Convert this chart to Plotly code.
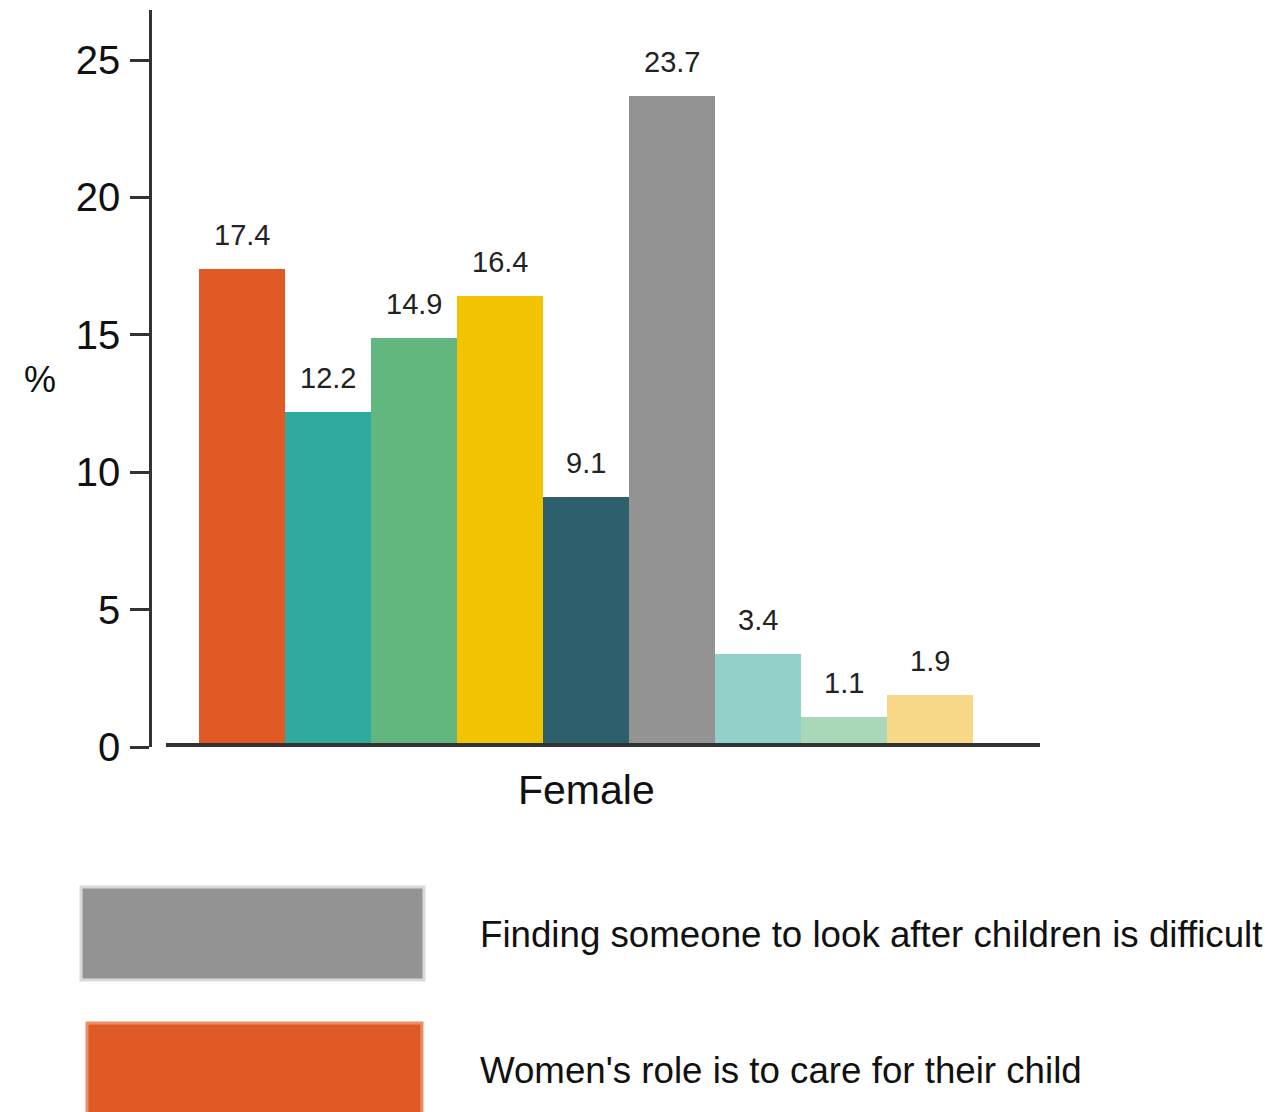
import plotly.graph_objects as go

# Reasons (one bar each), shares in percent for the female group
reasons = [
    "Women's role is to care for their child",
    "Reason 2",
    "Reason 3",
    "Reason 4",
    "Reason 5",
    "Finding someone to look after children is difficult",
    "Reason 7",
    "Reason 8",
    "Reason 9",
]
values = [17.4, 12.2, 14.9, 16.4, 9.1, 23.7, 3.4, 1.1, 1.9]
colors = ["#E05A26", "#2EAA9E", "#62B77F", "#F2C300", "#2D606C",
          "#939393", "#93D0CA", "#A8D8B7", "#F7D888"]
group_label = "Female"
y_ticks = [0, 5, 10, 15, 20, 25]

legend_items = [
    ("Finding someone to look after children is difficult", "#939393", "#D9D9D9"),
    ("Women's role is to care for their child", "#E05A26", "#EB8F6A"),
]

W, H = 1284, 1112
L, R, T, B = 152, 1040, 10, 747  # plot area in pixels

def px(x):
    return (x - L) / (R - L)

def py(y):
    return (B - y) / (B - T)

FONT = "Liberation Sans, Arial, sans-serif"

fig = go.Figure(go.Bar(
    x=list(range(len(reasons))),
    y=values,
    marker=dict(color=colors, line=dict(width=0)),
    hovertext=reasons,
    showlegend=False,
))

annotations = []
for i, v in enumerate(values):
    annotations.append(dict(
        x=i, y=v, xref="x", yref="y", text=f"{v:.1f}", showarrow=False,
        yanchor="middle", yshift=34,
        font=dict(family=FONT, size=29, color="#222222"),
    ))

# group label under the middle of the bar cluster
annotations.append(dict(
    x=(len(values) - 1) / 2, y=py(790), xref="x", yref="paper", text=group_label,
    showarrow=False, yanchor="middle",
    font=dict(family=FONT, size=41, color="#111111"),
))
# y axis title
annotations.append(dict(
    x=px(40), y=py(379), xref="paper", yref="paper", text="%",
    showarrow=False, xanchor="center", yanchor="middle",
    font=dict(family=FONT, size=36, color="#111111"),
))

shapes = [
    # baseline of the bars
    dict(type="line", xref="paper", yref="paper", x0=px(166), x1=1,
         y0=py(745), y1=py(745), line=dict(color="#333333", width=4)),
]

# legend drawn as large swatches with labels
swatches = [((81, 887, 424, 980), 934), ((87, 1023, 422, 1140), 1070)]
for (label, fill, edge), ((x0, y0, x1, y1), ty) in zip(legend_items, swatches):
    shapes.append(dict(type="rect", xref="paper", yref="paper",
                       x0=px(x0), x1=px(x1), y0=py(y0), y1=py(y1),
                       fillcolor=fill, line=dict(color=edge, width=3)))
    annotations.append(dict(
        x=px(478), y=py(ty), xref="paper", yref="paper", text=label,
        showarrow=False, xanchor="left", yanchor="middle",
        font=dict(family=FONT, size=36.7, color="#111111"),
    ))

unit = 86.0  # pixels per bar
x_lo = -0.5 - (199 - L) / unit
x_hi = x_lo + (R - L) / unit

fig.update_layout(
    width=W, height=H,
    margin=dict(l=L, r=W - R, t=T, b=H - B, pad=0),
    paper_bgcolor="white", plot_bgcolor="white",
    bargap=0,
    font=dict(family=FONT, color="#111111"),
    xaxis=dict(range=[x_lo, x_hi], showticklabels=False, ticks="",
               showgrid=False, zeroline=False, showline=False),
    yaxis=dict(range=[0, (B - T) / 27.48], tickvals=y_ticks,
               ticks="outside", ticklen=19, tickwidth=2.5, tickcolor="#333333",
               ticklabelstandoff=2,
               showline=True, linecolor="#333333", linewidth=2.5,
               showgrid=False, zeroline=False,
               tickfont=dict(family=FONT, size=40, color="#111111")),
    shapes=shapes,
    annotations=annotations,
)

fig.write_html("out.html")
